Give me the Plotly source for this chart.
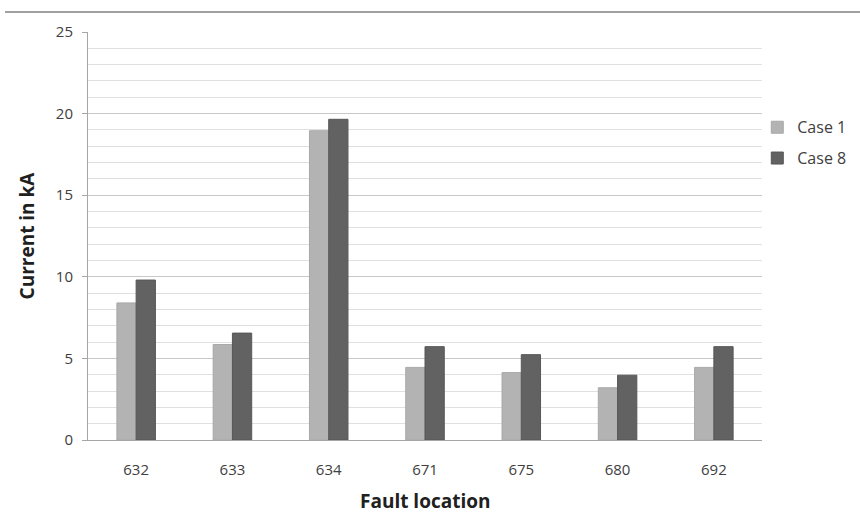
import plotly.graph_objects as go

locations = ["632", "633", "634", "671", "675", "680", "692"]
case1 = [8.4, 5.85, 18.95, 4.45, 4.13, 3.2, 4.45]
case8 = [9.8, 6.55, 19.65, 5.72, 5.23, 3.97, 5.72]
y_ticks = [0, 5, 10, 15, 20, 25]

FONT = "Open Sans"

fig = go.Figure()
fig.add_trace(go.Bar(name="Case 1", x=locations, y=case1, legendgroup="c1",
                     marker=dict(color="#b3b3b3", line=dict(color="#a8a8a8", width=1))))
fig.add_trace(go.Bar(name="Case 8", x=locations, y=case8, legendgroup="c8",
                     marker=dict(color="#626262", line=dict(color="#575757", width=1))))

fig.update_layout(
    width=860, height=514,
    margin=dict(l=88, r=98, t=32, b=74, autoexpand=False),
    paper_bgcolor="white", plot_bgcolor="white",
    barmode="group", bargap=0.6, bargroupgap=0,
    font=dict(family=FONT, color="#404040", size=14),
    legend=dict(x=0.993, y=0.808, xanchor="left", yanchor="top",
                font=dict(size=16, color="#404040"), itemwidth=30,
                tracegroupgap=7, bgcolor="rgba(0,0,0,0)"),
    showlegend=True,
)
fig.update_xaxes(
    type="category", showline=True, linecolor="#a6a6a6", linewidth=1,
    ticks="", ticklabelstandoff=16, tickfont=dict(size=15, color="#404040"),
    showgrid=False, automargin=False,
)
fig.update_yaxes(
    range=[0, 25], tickvals=y_ticks, showline=True, linecolor="#a6a6a6", linewidth=1,
    ticks="outside", ticklen=5, tickcolor="#a6a6a6", ticklabelstandoff=6,
    tickfont=dict(size=15, color="#404040"),
    showgrid=True, gridcolor="#c8c8c8", gridwidth=1,
    minor=dict(dtick=1, showgrid=True, gridcolor="#e0e0e0", gridwidth=1),
    title=dict(text="<b>Current in kA</b>", font=dict(size=19, color="#202020"), standoff=16),
    zeroline=False, automargin=False,
)
fig.add_annotation(text="<b>Fault location</b>", xref="paper", yref="paper",
                   x=0.5, y=-(501 - 440) / 408, xanchor="center", yanchor="middle",
                   showarrow=False, font=dict(size=19, color="#202020", family=FONT))
fig.add_shape(type="line", xref="paper", yref="paper",
              x0=-83/674, x1=(860-88)/674, y0=1 + 20/408, y1=1 + 20/408,
              line=dict(color="#a0a0a0", width=2))

fig.write_html("out.html")
